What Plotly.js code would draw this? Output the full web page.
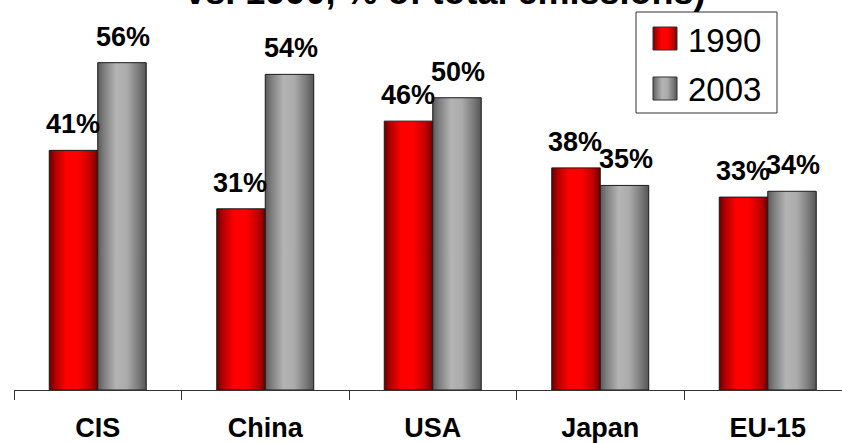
<!DOCTYPE html>
<html>
<head>
<meta charset="utf-8">
<script src="https://cdn.plot.ly/plotly-3.0.1.min.js"></script>
<style>
html,body{margin:0;padding:0;background:#fff;}
#chart{width:842px;height:443px;}
</style>
</head>
<body>
<svg width="0" height="0" style="position:absolute">
  <defs>
    <linearGradient id="gradRed" x1="0" y1="0" x2="1" y2="0">
      <stop offset="0" stop-color="#660000"/>
      <stop offset="0.12" stop-color="#b00000"/>
      <stop offset="0.35" stop-color="#ff0000"/>
      <stop offset="0.6" stop-color="#ff0000"/>
      <stop offset="0.85" stop-color="#c00000"/>
      <stop offset="1" stop-color="#6e0000"/>
    </linearGradient>
    <linearGradient id="gradGray" x1="0" y1="0" x2="1" y2="0">
      <stop offset="0" stop-color="#5a5a5a"/>
      <stop offset="0.12" stop-color="#7c7c7c"/>
      <stop offset="0.38" stop-color="#b4b4b4"/>
      <stop offset="0.6" stop-color="#ababab"/>
      <stop offset="0.85" stop-color="#787878"/>
      <stop offset="1" stop-color="#555555"/>
    </linearGradient>
  </defs>
</svg>
<div id="chart"></div>
<script>
// ---- data ----
var categories = ["CIS", "China", "USA", "Japan", "EU-15"];
var seriesNames = ["1990", "2003"];
var values1990 = [41, 31, 46, 38, 33];
var values2003 = [56, 54, 50, 35, 34];
var titleText = "vs. 1990, % of total emissions)";

var FONT = '"Liberation Sans", Arial, Helvetica, sans-serif';

var traces = [
  {type: 'bar', name: seriesNames[0], x: categories, y: values1990,
   marker: {color: '#ff0000', line: {color: '#1a1a1a', width: 1}}, hoverinfo: 'none'},
  {type: 'bar', name: seriesNames[1], x: categories, y: values2003,
   marker: {color: '#a8a8a8', line: {color: '#1a1a1a', width: 1}}, hoverinfo: 'none'}
];

// value labels
var annotations = [];
var series = [values1990, values2003];
var offsets = [-24.25, 24.25];
series.forEach(function (vals, s) {
  vals.forEach(function (v, i) {
    annotations.push({
      x: categories[i], y: v, xref: 'x', yref: 'y',
      text: v + '%', showarrow: false,
      xanchor: 'center', yanchor: 'bottom',
      xshift: offsets[s] + (s === 0 ? -1 : 1), yshift: 9,
      font: {family: FONT, size: 27, color: '#000', weight: 'bold'}
    });
  });
});

// legend (manual, to match large symbols)
var L = 14, W = 828, B = 390, H = 350;
function px(x) { return (x - L) / W; }
function py(y) { return (B - y) / H; }
annotations.push({x: px(686), y: py(40), xref: 'paper', yref: 'paper', text: seriesNames[0],
  showarrow: false, xanchor: 'left', yanchor: 'middle', font: {family: FONT, size: 33, color: '#000'}});
annotations.push({x: px(686), y: py(89), xref: 'paper', yref: 'paper', text: seriesNames[1],
  showarrow: false, xanchor: 'left', yanchor: 'middle', font: {family: FONT, size: 33, color: '#000'}});

var shapes = [
  {type: 'rect', xref: 'paper', yref: 'paper', x0: px(636), x1: px(777), y0: py(113), y1: py(12),
   line: {color: '#333', width: 1}, fillcolor: '#fff'},
  {type: 'rect', xref: 'paper', yref: 'paper', x0: px(653), x1: px(677), y0: py(50), y1: py(27),
   line: {color: '#333', width: 1}, fillcolor: '#ff0000'},
  {type: 'rect', xref: 'paper', yref: 'paper', x0: px(653), x1: px(677), y0: py(100), y1: py(77),
   line: {color: '#333', width: 1}, fillcolor: '#a8a8a8'}
];

var layout = {
  width: 842, height: 443,
  margin: {l: 14, r: 0, t: 40, b: 53, pad: 0},
  paper_bgcolor: '#fff', plot_bgcolor: '#fff',
  showlegend: false,
  barmode: 'group', bargap: 0.421, bargroupgap: 0,
  title: {text: titleText, xref: 'container', yref: 'container', x: 0.529, y: 1 - 4 / 443,
    xanchor: 'center', yanchor: 'bottom',
    font: {family: FONT, size: 36, color: '#000', weight: 'bold'}},
  xaxis: {type: 'category', range: [-0.5, -0.5 + 828 / 167.5], fixedrange: true,
    showline: true, linecolor: '#333', linewidth: 1, showgrid: false, zeroline: false,
    ticks: 'outside', tickson: 'boundaries', ticklen: 9, tickcolor: '#333', tickwidth: 1,
    ticklabelstandoff: 14,
    tickfont: {family: FONT, size: 27, color: '#000', weight: 'bold'}},
  yaxis: {range: [0, 350 / 5.845], visible: false, showgrid: false, zeroline: false, fixedrange: true},
  annotations: annotations,
  shapes: shapes
};

Plotly.newPlot('chart', traces, layout, {displayModeBar: false, staticPlot: true}).then(function (gd) {
  var grads = ['url(#gradRed)', 'url(#gradGray)'];
  var groups = gd.querySelectorAll('.barlayer .trace');
  groups.forEach(function (g, i) {
    g.querySelectorAll('.point path').forEach(function (p) { p.style.fill = grads[i]; });
  });
  var sp = gd.querySelectorAll('.shapelayer path');
  if (sp.length >= 3) { sp[1].style.fill = grads[0]; sp[2].style.fill = grads[1]; }
});
</script>
</body>
</html>
